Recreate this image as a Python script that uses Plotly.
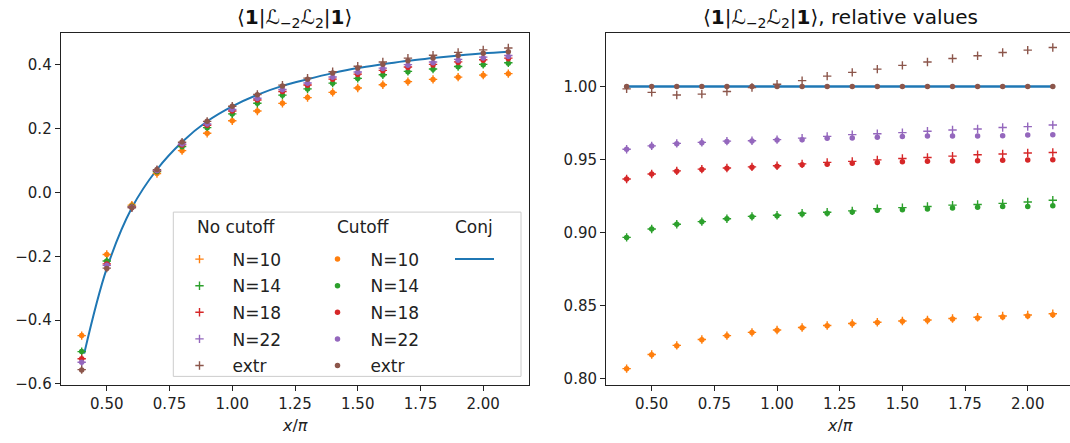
import plotly.graph_objects as go

W, H = 1070, 443

# ---------------- data ----------------
x_pts = [0.4, 0.5, 0.6, 0.7, 0.8, 0.9, 1.0, 1.1, 1.2, 1.3, 1.4, 1.5, 1.6, 1.7, 1.8, 1.9, 2.0, 2.1]

# conjectured value at the sample points
conj_pts = [-0.556, -0.238, -0.048, 0.072, 0.158, 0.223, 0.270, 0.306, 0.334, 0.355,
            0.374, 0.390, 0.402, 0.413, 0.421, 0.429, 0.436, 0.441]

# conjectured curve (line)
curve_x = [0.41, 0.5, 0.6, 0.7, 0.8, 0.9, 1.0, 1.1, 1.2, 1.3, 1.4, 1.5, 1.6, 1.7, 1.8, 1.9, 2.0, 2.1]
curve_y = [-0.505, -0.238, -0.048, 0.072, 0.158, 0.223, 0.270, 0.306, 0.334, 0.355,
           0.374, 0.390, 0.402, 0.413, 0.421, 0.429, 0.436, 0.441]

# relative values (value / conj), no cutoff
nocut_n10 = [0.8067, 0.8163, 0.8226, 0.8266, 0.8293, 0.8315, 0.8331, 0.8349, 0.8362, 0.8376,
             0.8385, 0.8393, 0.8400, 0.8410, 0.8419, 0.8427, 0.8434, 0.8443]
nocut_n14 = [0.8966, 0.9024, 0.9056, 0.9074, 0.9094, 0.9110, 0.9118, 0.9131, 0.9138, 0.9148,
             0.9162, 0.9170, 0.9178, 0.9187, 0.9191, 0.9199, 0.9209, 0.9221]
nocut_n18 = [0.9366, 0.9400, 0.9422, 0.9434, 0.9442, 0.9449, 0.9457, 0.9470, 0.9480, 0.9487,
             0.9497, 0.9507, 0.9514, 0.9523, 0.9532, 0.9537, 0.9544, 0.9548]
nocut_n22 = [0.9570, 0.9593, 0.9610, 0.9617, 0.9626, 0.9628, 0.9636, 0.9646, 0.9658, 0.9670,
             0.9676, 0.9684, 0.9693, 0.9702, 0.9709, 0.9719, 0.9725, 0.9736]
nocut_extr = [0.9984, 0.9960, 0.9942, 0.9948, 0.9966, 0.9993, 1.0015, 1.0040, 1.0071, 1.0097,
              1.0119, 1.0145, 1.0168, 1.0192, 1.0211, 1.0233, 1.0249, 1.0267]

# relative values, with cutoff
cut_n10 = [0.8065, 0.8162, 0.8224, 0.8265, 0.8292, 0.8314, 0.8330, 0.8347, 0.8360, 0.8374,
           0.8383, 0.8391, 0.8398, 0.8407, 0.8414, 0.8421, 0.8428, 0.8436]
cut_n14 = [0.8966, 0.9024, 0.9056, 0.9074, 0.9093, 0.9108, 0.9115, 0.9126, 0.9132, 0.9140,
           0.9152, 0.9156, 0.9161, 0.9168, 0.9172, 0.9177, 0.9178, 0.9183]
cut_n18 = [0.9366, 0.9400, 0.9420, 0.9432, 0.9440, 0.9447, 0.9454, 0.9463, 0.9467, 0.9474,
           0.9480, 0.9484, 0.9487, 0.9490, 0.9492, 0.9495, 0.9497, 0.9498]
cut_n22 = [0.9570, 0.9593, 0.9608, 0.9615, 0.9624, 0.9626, 0.9633, 0.9635, 0.9646, 0.9647,
           0.9653, 0.9658, 0.9660, 0.9660, 0.9661, 0.9662, 0.9668, 0.9669]
cut_extr = [1.000, 1.000, 1.000, 1.000, 1.000, 1.000, 1.000, 1.000, 1.000, 1.000,
            1.000, 1.000, 1.000, 1.000, 1.000, 1.000, 1.000, 1.000]

labels = ["N=10", "N=14", "N=18", "N=22", "extr"]
colors = ["#ff7f0e", "#2ca02c", "#d62728", "#9467bd", "#8c564b"]
nocut_series = [nocut_n10, nocut_n14, nocut_n18, nocut_n22, nocut_extr]
cut_series = [cut_n10, cut_n14, cut_n18, cut_n22, cut_extr]
legend_headers = ["No cutoff", "Cutoff", "Conj"]

x_ticks = [0.5, 0.75, 1.0, 1.25, 1.5, 1.75, 2.0]
left_y_ticks = [-0.6, -0.4, -0.2, 0.0, 0.2, 0.4]
right_y_ticks = [0.80, 0.85, 0.90, 0.95, 1.00]

BLUE = "#1f77b4"
FONT = "DejaVu Sans"
TXT = "#222222"

fig = go.Figure()

# ---------- conj line ----------
fig.add_trace(go.Scatter(x=curve_x, y=curve_y, mode="lines", line=dict(color=BLUE, width=2, shape="spline"),
                         name=" ", legend="legend3", legendgroup="c", showlegend=True, xaxis="x", yaxis="y"))
rel_conj = [c / c for c in conj_pts]
fig.add_trace(go.Scatter(x=x_pts, y=rel_conj, mode="lines", line=dict(color=BLUE, width=2.5),
                         showlegend=False, xaxis="x2", yaxis="y2"))

# ---------- no cutoff (+) ----------
for i, (lab, col, rel) in enumerate(zip(labels, colors, nocut_series)):
    left_vals = [r * c for r, c in zip(rel, conj_pts)]
    mk = dict(color=col, symbol="cross-thin", size=6, line=dict(color=col, width=1.4))
    fig.add_trace(go.Scatter(x=x_pts, y=left_vals, mode="markers", name=lab, marker=mk,
                             legend="legend", legendgroup="a%d" % i, xaxis="x", yaxis="y"))
    fig.add_trace(go.Scatter(x=x_pts, y=rel, mode="markers", showlegend=False, marker=mk,
                             xaxis="x2", yaxis="y2"))

# ---------- cutoff (dots) ----------
for i, (lab, col, rel) in enumerate(zip(labels, colors, cut_series)):
    left_vals = [r * c for r, c in zip(rel, conj_pts)]
    mk = dict(color=col, symbol="circle", size=5.5, line=dict(width=0))
    fig.add_trace(go.Scatter(x=x_pts, y=left_vals, mode="markers", name=lab, marker=mk,
                             legend="legend2", legendgroup="b%d" % i, xaxis="x", yaxis="y"))
    fig.add_trace(go.Scatter(x=x_pts, y=rel, mode="markers", showlegend=False, marker=mk,
                             xaxis="x2", yaxis="y2"))


def px_x(p):
    return p / W


def px_y(p):
    return 1 - p / H


axis_common = dict(showline=True, linecolor=TXT, linewidth=1, ticks="outside", ticklen=5,
                   tickwidth=1, tickcolor=TXT, showgrid=False, zeroline=False,
                   tickfont=dict(family=FONT, size=15, color=TXT))

legend_common = dict(bgcolor="rgba(0,0,0,0)", borderwidth=0, orientation="v",
                     xanchor="left", yanchor="top", font=dict(family=FONT, size=17, color=TXT),
                     tracegroupgap=1.5)

fig.update_layout(
    width=W, height=H,
    margin=dict(l=0, r=0, t=0, b=0),
    paper_bgcolor="white", plot_bgcolor="white",
    font=dict(family=FONT, size=15, color=TXT),
    xaxis=dict(domain=[px_x(60.7), px_x(529)], range=[0.3164, 2.1824], tickvals=x_ticks,
               tickformat=".2f", mirror=True, anchor="y", **axis_common),
    yaxis=dict(domain=[px_y(392), px_y(34)], range=[-0.603, 0.4985], tickvals=left_y_ticks,
               tickformat=".1f", mirror=True, anchor="x", **axis_common),
    xaxis2=dict(domain=[px_x(606), 1.0], range=[0.3177, 2.1686], tickvals=x_ticks,
                tickformat=".2f", mirror=True, anchor="y2", **axis_common),
    yaxis2=dict(domain=[px_y(392), px_y(34)], range=[0.7955, 1.0364], tickvals=right_y_ticks,
                tickformat=".2f", mirror=False, anchor="x2", **axis_common),
    legend=dict(x=px_x(166.5), y=px_y(246), itemwidth=56, **legend_common),
    legend2=dict(x=px_x(304.5), y=px_y(246), itemwidth=56, **legend_common),
    legend3=dict(x=px_x(450), y=px_y(246), itemwidth=39, **legend_common),
    showlegend=True,
)

# legend frame
fig.add_shape(type="rect", xref="paper", yref="paper",
              x0=px_x(173.3), x1=px_x(521), y0=px_y(383.3), y1=px_y(216),
              line=dict(color="#cccccc", width=1), fillcolor="rgba(255,255,255,0.8)", layer="above")

# legend column headers
for hx, htxt in zip([195, 335, 452.7], legend_headers):
    fig.add_annotation(text=htxt, x=px_x(hx), y=px_y(230.7), xref="paper", yref="paper",
                       showarrow=False, xanchor="left", yanchor="middle",
                       font=dict(family=FONT, size=17, color=TXT))

title_txt = "⟨<b>1</b>|ℒ<sub>−2</sub>ℒ<sub>2</sub>|<b>1</b>⟩"
fig.add_annotation(text=title_txt, x=px_x(294.8), y=px_y(18), xref="paper", yref="paper",
                   showarrow=False, xanchor="center", yanchor="middle",
                   font=dict(family=FONT, size=20, color="#111111"))
fig.add_annotation(text=title_txt + ", relative values", x=px_x(840), y=px_y(18), xref="paper", yref="paper",
                   showarrow=False, xanchor="center", yanchor="middle",
                   font=dict(family=FONT, size=20, color="#111111"))
for cx in (294.8, 840):
    fig.add_annotation(text="<i>x</i>/<i>π</i>", x=px_x(cx), y=px_y(433), xref="paper", yref="paper",
                       showarrow=False, xanchor="center", yanchor="middle",
                       font=dict(family=FONT, size=16, color=TXT))

fig.write_html("out.html")
